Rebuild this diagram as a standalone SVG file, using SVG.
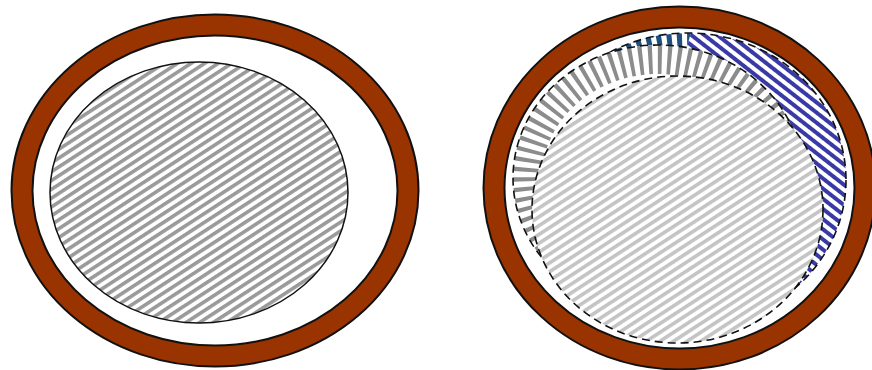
<svg xmlns="http://www.w3.org/2000/svg" width="872" height="370" viewBox="0 0 872 370">
  <style>
    .ring-edge { fill: none; stroke: #111; stroke-width: 23; }
    .ring { fill: none; stroke: #993300; stroke-width: 19; }
    .white { fill: #fff; }
    .dash { fill: none; stroke: #111; stroke-width: 1.6; stroke-dasharray: 8 5; }
    .solid { fill: none; stroke: #111; stroke-width: 1.5; }
  </style>
  <defs>
    <pattern id="hatchGray" patternUnits="userSpaceOnUse" width="10" height="7.4" patternTransform="rotate(-33)">
      <rect width="10" height="3.6" fill="#9a9a9a"/>
    </pattern>
    <pattern id="hatchLight" patternUnits="userSpaceOnUse" width="10" height="7.4" patternTransform="rotate(-33)">
      <rect width="10" height="3.6" fill="#c4c4c4"/>
    </pattern>
    <pattern id="hatchBlue" patternUnits="userSpaceOnUse" width="10" height="8" patternTransform="rotate(38)">
      <rect width="10" height="4" fill="#3a3aa6"/>
    </pattern>
    <clipPath id="clipB"><ellipse cx="688" cy="180" rx="158" ry="147"/></clipPath>
    <clipPath id="clipNavy"><polygon points="480,0 700,0 680,72 480,210"/></clipPath>
    <clipPath id="clipG"><ellipse cx="658" cy="178" rx="145" ry="133"/></clipPath>
  </defs>

  <g id="left-figure">
    <ellipse class="ring-edge" cx="215" cy="190.5" rx="193" ry="165.5"/>
    <ellipse class="ring" cx="215" cy="190.5" rx="193" ry="165.5"/>
    <ellipse class="white" cx="199" cy="192.5" rx="149" ry="130.5"/>
    <ellipse cx="199" cy="192.5" rx="149" ry="130.5" fill="url(#hatchGray)"/>
    <ellipse class="solid" cx="199" cy="192.5" rx="149" ry="130.5"/>
  </g>

  <g id="right-figure">
    <g id="blue-region">
      <ellipse class="white" cx="688" cy="180" rx="158" ry="147"/>
      <ellipse cx="688" cy="180" rx="158" ry="147" fill="url(#hatchBlue)"/>
      <g clip-path="url(#clipB)">
        <g clip-path="url(#clipNavy)">
          <rect x="480" y="0" width="240" height="220" fill="#fff"/>
          <ellipse cx="688" cy="180" rx="150" ry="139" fill="none" stroke="#1f4f80" stroke-width="20" stroke-dasharray="5 5"/>
        </g>
      </g>
      <ellipse class="dash" cx="688" cy="180" rx="158" ry="147"/>
    </g>
    <g id="gray-region">
      <ellipse class="white" cx="658" cy="178" rx="145" ry="133"/>
      <g clip-path="url(#clipG)">
        <ellipse cx="658" cy="178" rx="131" ry="119" fill="none" stroke="#8c8c8c" stroke-width="30" stroke-dasharray="4 5.5"/>
      </g>
      <ellipse class="dash" cx="658" cy="178" rx="145" ry="133"/>
    </g>
    <g id="light-region">
      <ellipse class="white" cx="677.5" cy="209.5" rx="145.5" ry="133.5"/>
      <ellipse cx="677.5" cy="209.5" rx="145.5" ry="133.5" fill="url(#hatchLight)"/>
      <ellipse class="dash" cx="677.5" cy="209.5" rx="145.5" ry="133.5"/>
    </g>
    <g id="right-ring">
      <ellipse class="ring-edge" cx="679.5" cy="188" rx="185.5" ry="171"/>
      <ellipse class="ring" cx="679.5" cy="188" rx="185.5" ry="171"/>
    </g>
  </g>
</svg>
